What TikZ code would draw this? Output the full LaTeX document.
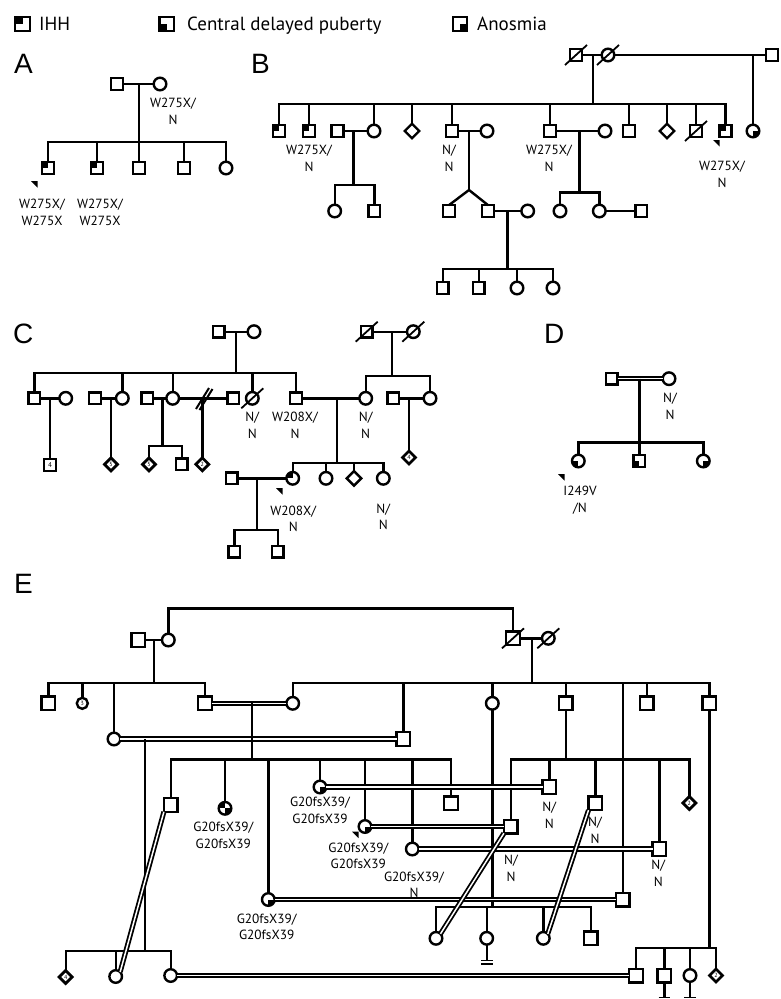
\documentclass[tikz,border=0pt]{standalone}
\usepackage{fontspec}
\setmainfont{PT Sans}
\newfontfamily\letterfont{Liberation Sans}
\usetikzlibrary{shapes.geometric}
\tikzset{
 pers/.style={draw=black, line width=2.4pt, fill=white, inner sep=0pt, outer sep=0pt},
 psq/.style={pers, rectangle, minimum size=11.8pt},
 psqE/.style={pers, rectangle, minimum size=13.6pt},
 pci/.style={pers, circle, minimum size=12.6pt},
 pdi/.style={pers, diamond, minimum width=14.5pt, minimum height=14.5pt},
 ndi/.style={pers, diamond, minimum width=13pt, minimum height=13pt, line width=2.8pt, font=\fontsize{6}{6}\selectfont},
 nsq/.style={psq, line width=2pt, font=\fontsize{7}{7}\selectfont},
 nci/.style={pers, circle, minimum size=11pt, font=\fontsize{6}{6}\selectfont},
 qihh/.style={path picture={\fill[black] (path picture bounding box.center) rectangle (path picture bounding box.north west);}},
 qcdp/.style={path picture={\fill[black] (path picture bounding box.center) rectangle (path picture bounding box.south west);}},
 qano/.style={path picture={\fill[black] (path picture bounding box.center) rectangle (path picture bounding box.south east);}},
 qtwo/.style={path picture={\fill[black] (path picture bounding box.center) rectangle (path picture bounding box.north west);
   \fill[black] (path picture bounding box.center) rectangle (path picture bounding box.south east);}},
 lab/.style={font=\fontsize{13.3}{16.7}\selectfont, align=center, inner sep=0pt},
 dbl/.style={double=white, double distance=1.5pt, line width=1.8pt},
 ltr/.style={font=\letterfont\fontsize{28}{28}\selectfont, anchor=base west, inner sep=0pt},
 leg/.style={font=\fontsize{19}{22}\selectfont, anchor=base west, inner sep=0pt},
}
\newcommand\dslash[1]{\draw[line width=1.8pt] (#1.center) ++(-11,10) -- ++(22,-20);}
\newcommand\pband[2]{\fill (#1,#2) -- ++(6.5,0) -- ++(0,6.5) -- cycle;}
\begin{document}
\begin{tikzpicture}[x=1pt,y=-1pt,line width=2.4pt]
\useasboundingbox (0,0) rectangle (780,999);

% ---------------- legend
\node[psq,minimum size=14.5pt,qihh] (lg1) at (22.5,24) {};
\node[leg] (lt1) at (38,30.5) {IHH};
\node[psq,minimum size=14.5pt,qcdp] (lg2) at (166.7,24) {};
\node[leg] (lt2) at (186,30.5) {Central delayed puberty};
\node[psq,minimum size=14.5pt,qano] (lg3) at (460,24) {};
\node[leg] (lt3) at (476,30.5) {Anosmia};

% ---------------- letters
\node[ltr] (LA) at (13,73) {A};
\node[ltr] (LB) at (250,73) {B};
\node[ltr] (LC) at (12,343) {C};
\node[ltr] (LD) at (543,343) {D};
\node[ltr] (LE) at (13,593) {E};

% ================= A
\node[psq] (a1) at (117,84) {};
\node[pci] (a2) at (160,84) {};
\node[psq,qihh] (a3) at (48,168) {};
\node[psq,qihh] (a4) at (97,168) {};
\node[psq] (a5) at (139,168) {};
\node[psq] (a6) at (184,168) {};
\node[pci] (a7) at (226,168) {};
\coordinate (am) at (139,84);
\coordinate (as) at (139,142);
\draw (a1) -- (a2);
\draw (am) -- (as);
\draw (a3.north) -- (a3.north |- as) -- (a7.north |- as) -- (a7.north);
\foreach \c in {a4,a5,a6} \draw (\c.north) -- (\c.north |- as);
\node[lab] (la2) at (173,111.5) {W275X/\\N};
\node[lab] (la3) at (42,212) {W275X/\\W275X};
\node[lab] (la4) at (100,212) {W275X/\\W275X};
\pband{31}{181}

% ================= B
\node[psq] (b1) at (576,55) {};
\node[pci] (b2) at (608,55) {};
\node[psq] (b3) at (772,55) {};
\dslash{b1}\dslash{b2}
\draw (b1) -- (b2);
\draw (b2) -- (b3);
\node[psq,qihh] (b4) at (279,131) {};
\node[psq,qihh] (b5) at (309,131) {};
\node[psq] (b6) at (337.5,131) {};
\node[pci] (b7) at (374,131) {};
\node[pdi] (b8) at (412,131) {};
\node[psq] (b9) at (452,131) {};
\node[pci] (b10) at (487,131) {};
\node[psq] (b11) at (550,131) {};
\node[pci] (b12) at (605,131) {};
\node[psq] (b13) at (629,131) {};
\node[pdi] (b15) at (667,131) {};
\node[psq] (b16) at (696,131) {};
\dslash{b16}
\node[psq,qihh] (b17) at (725.5,131) {};
\node[pci,qano] (b14) at (753,131) {};
\coordinate (bm) at (593,55);
\coordinate (bs) at (593,104);
\coordinate (bm2) at (753,55);
\draw (bm) -- (bs);
\draw (bm2) -- (b14.north);
\draw (b4.north) -- (b4.north |- bs) -- (b17.north |- bs) -- (b17.north);
\foreach \c in {b5,b7,b8,b9,b11,b13,b15,b16} \draw (\c.north) -- (\c.north |- bs);
\draw (b6) -- (b7);
\draw (b9) -- (b10);
\draw (b11) -- (b12);
% b6-b7 children
\node[pci] (b18) at (334.7,211) {};
\node[psq] (b19) at (374.3,211) {};
\coordinate (bm3) at (353.6,131);
\coordinate (bs3) at (353.6,185);
\draw (bm3) -- (bs3);
\draw (b18.north) -- (b18.north |- bs3) -- (b19.north |- bs3) -- (b19.north);
% twins
\node[psq] (b20) at (449,211) {};
\node[psq] (b21) at (488,211) {};
\node[pci] (b22) at (527.7,211) {};
\coordinate (bm4) at (469,131);
\coordinate (bt) at (469,190);
\draw (bm4) -- (bt);
\draw (b20.north) -- (bt) -- (b21.north);
\draw (b21) -- (b22);
\node[psq] (b23) at (442.7,288) {};
\node[psq] (b24) at (478.7,288) {};
\node[pci] (b25) at (517,288) {};
\node[pci] (b26) at (553,288) {};
\coordinate (bm5) at (507.3,211);
\coordinate (bs5) at (507.3,269);
\draw (bm5) -- (bs5);
\draw (b23.north) -- (b23.north |- bs5) -- (b26.north |- bs5) -- (b26.north);
\foreach \c in {b24,b25} \draw (\c.north) -- (\c.north |- bs5);
% b11-b12 children
\node[pci] (b27) at (560,211) {};
\node[pci] (b28) at (599.3,211) {};
\node[psq] (b29) at (641.3,211) {};
\coordinate (bm6) at (579.3,131);
\coordinate (bs6) at (579.3,192.3);
\draw (bm6) -- (bs6);
\draw (b27.north) -- (b27.north |- bs6) -- (b28.north |- bs6) -- (b28.north);
\draw (b28) -- (b29);
\node[lab] (lb5) at (309,158.5) {W275X/\\N};
\node[lab] (lb9) at (449,158.5) {N/\\N};
\node[lab] (lb11) at (549,158.5) {W275X/\\N};
\node[lab] (lb17) at (722,174.5) {W275X/\\N};
\pband{713}{140}

% ================= C
\node[psq] (c1) at (218.7,331.7) {};
\node[pci] (c2) at (254,331.7) {};
\node[psq] (c3) at (366.7,331.7) {};
\node[pci] (c4) at (413.3,331.7) {};
\dslash{c3}\dslash{c4}
\draw (c1) -- (c2);
\draw (c3) -- (c4);
\node[psq] (c5) at (34.3,398.3) {};
\node[pci] (c6) at (65.7,398.3) {};
\node[psq] (c7) at (95,398.3) {};
\node[pci] (c8) at (122.3,398.3) {};
\node[psq] (c9) at (147.3,398.3) {};
\node[pci] (c10) at (172.7,398.3) {};
\node[psq] (c11) at (233.3,398.3) {};
\node[pci] (c12) at (252.3,398.3) {};
\dslash{c12}
\node[psq] (c13) at (296,398.3) {};
\node[pci] (c14) at (365.7,398.3) {};
\node[psq] (c15) at (393.3,398.3) {};
\node[pci] (c16) at (430,398.3) {};
\coordinate (cm1) at (236,331.7);
\coordinate (cs1) at (236,372.7);
\draw (cm1) -- (cs1);
\draw (c5.north) -- (c5.north |- cs1) -- (c13.north |- cs1) -- (c13.north);
\foreach \c in {c8,c10,c12} \draw (\c.north) -- (\c.north |- cs1);
\coordinate (cm2) at (391.7,331.7);
\coordinate (cs2) at (391.7,376);
\draw (cm2) -- (cs2);
\draw (c14.north) -- (c14.north |- cs2) -- (c16.north |- cs2) -- (c16.north);
\draw (c5) -- (c6);
\draw (c7) -- (c8);
\draw (c9) -- (c10);
\draw (c10) -- (c11);
\draw[line width=2pt] (196,409) -- (209,388) (199.5,410) -- (212.5,389);
\draw (c13) -- (c14);
\draw (c15) -- (c16);
% grandchildren row
\node[nsq] (c17) at (50,465) {4};
\node[ndi] (c18) at (111,464.3) {5};
\node[ndi] (c19) at (149,464.3) {5};
\node[psq] (c20) at (181.7,464.3) {};
\node[ndi] (c21) at (202.3,464.3) {2};
\node[ndi] (c22) at (409,457.5) {4};
\draw (50,398.3) -- (c17.north);
\draw (111,398.3) -- (c18.north);
\coordinate (cm3) at (162.3,398.3);
\coordinate (cs3) at (162.3,446);
\draw (cm3) -- (cs3);
\draw (c19.north) -- (c19.north |- cs3) -- (c20.north |- cs3) -- (c20.north);
\draw (202.3,398.3) -- (c21.north);
\draw (409,398.3) -- (c22.north);
\node[pci,qihh] (c23) at (292.7,478.3) {};
\node[pci] (c24) at (326,478.3) {};
\node[pdi] (c25) at (354,478.3) {};
\node[pci] (c26) at (383.3,478.3) {};
\coordinate (cm4) at (336.7,398.3);
\coordinate (cs4) at (336.7,462.7);
\draw (cm4) -- (cs4);
\draw (c23.north) -- (c23.north |- cs4) -- (c26.north |- cs4) -- (c26.north);
\foreach \c in {c24,c25} \draw (\c.north) -- (\c.north |- cs4);
\node[psq] (c27) at (231.7,478.3) {};
\draw (c27) -- (c23);
\node[psq] (c28) at (234.3,551.7) {};
\node[psq] (c29) at (277.7,551.7) {};
\coordinate (cm5) at (256.7,478.3);
\coordinate (cs5) at (256.7,530);
\draw (cm5) -- (cs5);
\draw (c28.north) -- (c28.north |- cs5) -- (c29.north |- cs5) -- (c29.north);
\node[lab] (lc12) at (252.3,425.3) {N/\\N};
\node[lab] (lc13) at (295,425.3) {W208X/\\N};
\node[lab] (lc14) at (365.7,425.3) {N/\\N};
\node[lab] (lc23) at (293.3,518.7) {W208X/\\N};
\node[lab] (lc26) at (383.3,516.7) {N/\\N};
\pband{276}{488}

% ================= D
\node[psq] (d1) at (611.7,378.7) {};
\node[pci] (d2) at (669,378.7) {};
\draw[dbl] (d1) -- (d2);
\node[pci,qcdp] (d3) at (578.3,461) {};
\node[psq,qcdp] (d4) at (639.3,461) {};
\node[pci,qano] (d5) at (703.3,461) {};
\coordinate (dm) at (639.3,378.7);
\coordinate (ds) at (639.3,442.3);
\draw (dm) -- (ds);
\draw (d3.north) -- (d3.north |- ds) -- (d5.north |- ds) -- (d5.north);
\draw (d4.north) -- (ds);
\node[lab] (ld2) at (670,406) {N/\\N};
\node[lab] (ld3) at (580,500) {I249V\\/N};
\pband{558}{474}

% ================= E
\node[psqE] (e1) at (138.3,640) {};
\node[pci] (e2) at (168.3,640) {};
\node[psqE] (e3) at (513,638.3) {};
\node[pci] (e4) at (548.3,638.3) {};
\dslash{e3}\dslash{e4}
\coordinate (etop) at (168.3,608.3);
\draw (e2.north) -- (etop) -| (e3.north);
\draw (e1) -- (e2);
\draw (e3) -- (e4);
\node[psqE] (e5) at (48.3,703.3) {};
\node[nci] (e6) at (82.3,703.3) {3};
\node[psqE] (e7) at (205,703.3) {};
\node[pci] (e8) at (292.7,703.3) {};
\node[pci] (e9) at (492.3,703.3) {};
\node[psqE] (e10) at (565.7,703.3) {};
\node[psqE] (e11) at (646.7,703.3) {};
\node[psqE] (e12) at (709.3,703.3) {};
\node[pci] (e13) at (114,739) {};
\node[psqE] (e14) at (403.3,739) {};
\coordinate (em1) at (154,640);
\coordinate (es1) at (154,682.7);
\draw (em1) -- (es1);
\draw (e5.north) -- (e5.north |- es1) -- (e7.north |- es1) -- (e7.north);
\draw (e6.north) -- (e6.north |- es1);
\draw (e13.north) -- (e13.north |- es1);
\coordinate (em2) at (531.7,638.3);
\coordinate (es2) at (531.7,682.7);
\draw (em2) -- (es2);
\draw (e8.north) -- (e8.north |- es2) -- (e12.north |- es2) -- (e12.north);
\foreach \c in {e14,e9,e10,e11} \draw (\c.north) -- (\c.north |- es2);
\draw[dbl] (e7) -- (e8);
\draw[dbl] (e13) -- (e14);
% sibship from e7=e8
\node[psqE] (e15) at (170.7,805) {};
\node[pci,qtwo] (e16) at (225,808.3) {};
\node[pci,qano] (e17) at (268.3,899.5) {};
\node[pci,qano] (e18) at (320,787) {};
\node[pci,qano] (e19) at (365,826.5) {};
\node[pci] (e20) at (412.3,849) {};
\node[psqE] (e21) at (451,803.3) {};
\coordinate (em3) at (251.7,703.3);
\coordinate (es3) at (251.7,759.3);
\draw (em3) -- (es3);
\draw (e15.north) -- (e15.north |- es3) -- (e21.north |- es3) -- (e21.north);
\foreach \c in {e16,e17,e18,e19,e20} \draw (\c.north) -- (\c.north |- es3);
% sibship from e10
\node[psqE] (e29) at (510.7,826.5) {};
\node[psqE] (e31) at (549.3,787) {};
\node[psqE] (e32) at (595.3,803.3) {};
\node[psqE] (e33) at (659.3,849) {};
\node[ndi] (e34) at (689.3,803) {2};
\coordinate (es4) at (565.7,759.3);
\draw (e10.south) -- (es4);
\draw (e29.north) -- (e29.north |- es4) -- (e34.north |- es4) -- (e34.north);
\foreach \c in {e31,e32,e33} \draw (\c.north) -- (\c.north |- es4);
% long line to e30
\node[psqE] (e30) at (622.7,899.5) {};
\draw (e30.north) -- (e30.north |- es2);
% bottom-left sibship
\node[ndi] (e22) at (65.7,977) {4};
\node[pci] (e23) at (115.7,976.5) {};
\node[pci] (e24) at (170.7,975.5) {};
\coordinate (em5) at (145,739);
\coordinate (es5) at (145,950.7);
\draw (em5) -- (es5);
\draw (e22.north) -- (e22.north |- es5) -- (e24.north |- es5) -- (e24.north);
\draw (e23.north) -- (e23.north |- es5);
% sibship from e9
\node[pci] (e25) at (436,938.3) {};
\node[pci] (e26) at (486.7,938.3) {};
\node[pci] (e27) at (543.3,938.3) {};
\node[psqE] (e28) at (590.7,938.3) {};
\coordinate (es6) at (492.3,906.7);
\draw (e9.south) -- (es6);
\draw (e25.north) -- (e25.north |- es6) -- (e28.north |- es6) -- (e28.north);
\foreach \c in {e26,e27} \draw (\c.north) -- (\c.north |- es6);
\coordinate (e26b) at (486.7,960.5);
\draw (e26.south) -- (e26b);
\draw[line width=1.7pt] (481,960.5) -- (492.5,960.5) (481,964) -- (492.5,964);
% sibship from e12
\node[psqE] (e35) at (636,975.5) {};
\node[psqE] (e36) at (664.3,975.5) {};
\node[pci] (e37) at (690,975.5) {};
\node[ndi] (e38) at (716,975.5) {2};
\coordinate (es7) at (709.3,947.7);
\draw (e12.south) -- (es7);
\draw (e35.north) -- (e35.north |- es7) -- (e38.north |- es7) -- (e38.north);
\foreach \c in {e36,e37} \draw (\c.north) -- (\c.north |- es7);
\coordinate (e36b) at (664.3,997.5);
\coordinate (e37b) at (690,997.5);
\draw (e36.south) -- (e36b);
\draw (e37.south) -- (e37b);
\draw[line width=1.8pt] (658.5,997.5) -- (670,997.5) (684.2,997.5) -- (695.8,997.5);
% consanguineous marriages
\draw[dbl] (e18) -- (e31);
\draw[dbl] (e19) -- (e29);
\draw[dbl] (e20) -- (e33);
\draw[dbl] (e17) -- (e30);
\draw[dbl] (e24) -- (e35);
\draw[dbl] (e15.south west) -- (e23.north east);
\draw[dbl] (e29.south west) -- (e25.north east);
\draw[dbl] (e32.south west) -- (e27.north east);
% labels
\node[lab] (le16) at (223.3,835) {G20fsX39/\\G20fsX39};
\node[lab] (le18) at (320,810) {G20fsX39/\\G20fsX39};
\node[lab] (le19) at (358.3,855.7) {G20fsX39/\\G20fsX39};
\node[lab] (le20) at (414,884.7) {G20fsX39/\\N};
\node[lab] (le17) at (266.7,926.7) {G20fsX39/\\G20fsX39};
\node[lab] (le31) at (549.3,815) {N/\\N};
\node[lab] (le32) at (595,830.3) {N/\\N};
\node[lab] (le29) at (511,868) {N/\\N};
\node[lab] (le33) at (658.3,873.3) {N/\\N};
\pband{352}{831.5}
\end{tikzpicture}
\end{document}
